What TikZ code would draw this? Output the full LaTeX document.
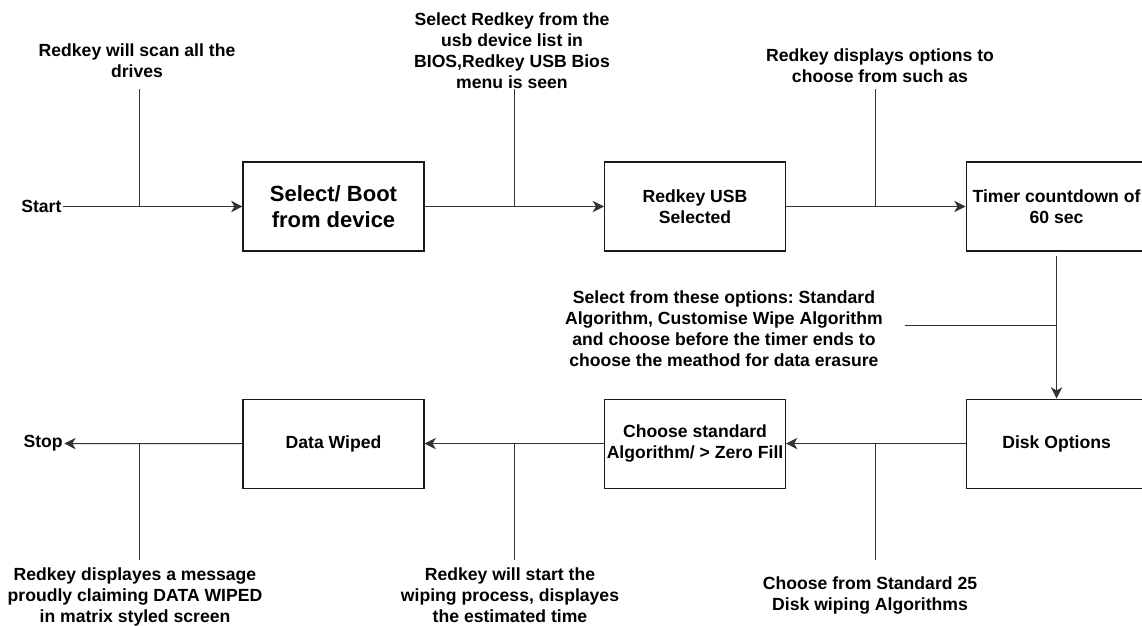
\documentclass[tikz,border=0pt]{standalone}
\usepackage{fontspec}
\setmainfont{Liberation Sans}
\frenchspacing
\usetikzlibrary{arrows.meta,positioning,calc}
\tikzset{
  stage/.style    = {rectangle, draw=black!90, line width=0.8pt, align=center,
                     minimum width=135.75pt, minimum height=66.75pt, inner sep=0pt,
                     font=\fontsize{13.2}{16}\selectfont\bfseries},
  bigstage/.style = {stage, font=\fontsize{16.5}{19}\selectfont\bfseries},
  note/.style     = {align=center, inner sep=0pt,
                     font=\fontsize{13.2}{15.8}\selectfont\bfseries},
  term/.style     = {inner sep=1pt, font=\fontsize{13.2}{16}\selectfont\bfseries},
  ln/.style       = {draw=black!80, line width=0.75pt},
  ar/.style       = {ln, -{Stealth[length=8.5pt, width=8.5pt, inset=2.5pt]}}
}

\begin{document}
\begin{tikzpicture}[x=0.75pt, y=-0.75pt, node distance=110.25pt and 134.6pt]
    \useasboundingbox (0,0) rectangle (1142,625);

    % ---- Top row ----
    \node[term, anchor=east] (start) at (63,206.5) {Start};
    \node[bigstage] (boot) at (333.5,206.5) {Select/ Boot\\ from device};
    \node[stage, right=of boot] (usb) {Redkey USB\\ Selected};
    \node[stage, right=of usb] (timer) {Timer countdown of\\ 60 sec};

    % ---- Bottom row ----
    \node[stage, below=of timer] (disk) {Disk Options};
    \node[stage, left=of disk] (algo) {Choose standard\\ Algorithm/ > Zero Fill};
    \node[stage, left=of algo] (wiped) {Data Wiped};
    \node[term, anchor=west] (stop) at (22,443.5) {Stop};

    % ---- Notes ----
    \node[note, anchor=south] (scan) at (137,78) {Redkey will scan all the\\ drives};
    \node[note, anchor=south] (bios) at (512,89) {Select Redkey from the\\
                     usb device list in\\ BIOS,Redkey USB Bios\\ menu is seen};
    \node[note, anchor=south] (opts) at (880,83) {Redkey displays options to\\
                     choose from such as};
    \node[note, anchor=east] (pick) at (883,329) {Select from these options: Standard\\
                     Algorithm, Customise Wipe Algorithm\\
                     and choose before the timer ends to\\
                     choose the meathod for data erasure};
    \node[note, anchor=north] (msg) at (135,567) {Redkey displayes a message\\
                     proudly claiming DATA WIPED\\ in matrix styled screen};
    \node[note, anchor=north] (run) at (510,567) {Redkey will start the\\
                     wiping process, displayes\\ the estimated time};
    \node[note, anchor=north] (algs) at (870,576) {Choose from Standard 25\\
                     Disk wiping Algorithms};

    % ---- Junctions ----
    \coordinate (jscan) at (139,206.5);
    \coordinate (jbios) at (514,206.5);
    \coordinate (jopts) at (875,206.5);
    \coordinate (jpick) at ($(timer.south)!0.5!(disk.north)$);
    \coordinate (jmsg)  at (139,442.5);
    \coordinate (jrun)  at (514,442.5);
    \coordinate (jalgs) at (875,442.5);

    % ---- Arrows ----
    \draw[ar] (start) -- (boot);
    \draw[ar] (boot) -- (usb);
    \draw[ar] (usb) -- (timer);
    \draw[ar, shorten <=3pt] (timer) -- (disk);
    \draw[ar] (disk) -- (algo);
    \draw[ar] (algo) -- (wiped);
    \draw[ar] (wiped) -- (stop);

    % ---- Note lines ----
    \draw[ln, shorten <=8.25pt] (scan.south -| jscan) -- (jscan);
    \draw[ln] (bios.south -| jbios) -- (jbios);
    \draw[ln, shorten <=4.5pt] (opts.south -| jopts) -- (jopts);
    \draw[ln, shorten <=16.5pt] (pick.east |- jpick) -- (jpick);
    \draw[ln, shorten <=5.25pt] (msg.north -| jmsg) -- (jmsg);
    \draw[ln, shorten <=5.25pt] (run.north -| jrun) -- (jrun);
    \draw[ln, shorten <=12pt] (algs.north -| jalgs) -- (jalgs);
\end{tikzpicture}
\end{document}
